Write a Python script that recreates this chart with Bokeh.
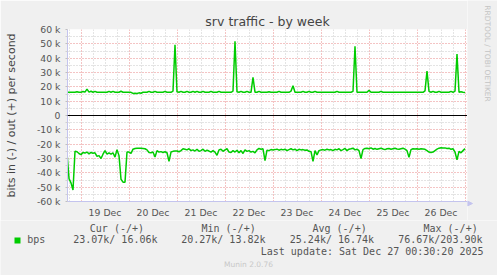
from math import pi
from bokeh.plotting import figure
from bokeh.layouts import column, row
from bokeh.models import (Range1d, FixedTicker, Label, Span, Arrow, NormalHead,
                          BoxAnnotation, ColumnDataSource)
from bokeh.embed import file_html
from bokeh.resources import INLINE

# ---------------- data ----------------
# hourly samples, hour 0 = 19 Dec 00:00, first sample at hour -7
start_hour = -7
out_k = [
    16.2, 16.2, 16.3, 16.2, 16.2, 16.5, 16.2,
    16.2, 16.8, 16.3, 18.4, 16.3, 16.9, 16.2, 16.8, 16.2, 16.2, 16.3, 16.2,
    16.2, 16.2, 16.8, 16.2, 16.8, 16.2, 16.2, 16.2, 16.9, 16.2, 16.2, 16.2,
    16.2, 16.2, 15.4, 15.6, 15.4, 15.8, 15.5, 16.2, 16.2, 16.2, 16.8, 16.2,
    16.2, 16.8, 16.2, 16.2, 16.2, 16.2, 16.8, 16.2, 16.2, 16.2, 17.0, 49.4,
    16.5, 16.2, 16.8, 16.2, 16.2, 16.8, 16.2, 16.2, 16.8, 16.2, 16.8, 16.2,
    16.2, 16.8, 16.2, 16.2, 16.2, 16.8, 16.2, 16.2, 16.2, 16.8, 16.2, 16.2,
    16.2, 16.2, 16.2, 16.2, 17.0, 51.7, 16.5, 16.2, 16.8, 16.2, 16.2, 16.8,
    16.2, 16.2, 26.7, 16.3, 16.2, 16.8, 16.2, 16.2, 16.2, 16.2, 16.5, 16.2,
    16.2, 16.3, 16.2, 16.8, 16.2, 16.2, 16.2, 16.2, 16.2, 17.0, 20.7, 16.2,
    16.2, 16.2, 16.2, 16.8, 16.2, 16.2, 16.8, 16.2, 16.2, 16.8, 16.2, 16.2,
    16.2, 16.2, 16.2, 16.2, 16.2, 16.2, 16.2, 16.2, 16.8, 16.2, 16.2, 16.2,
    16.2, 16.2, 16.2, 16.2, 16.8, 48.3, 16.2, 16.2, 16.2, 16.2, 16.2, 16.2,
    17.5, 16.2, 16.2, 16.2, 16.2, 16.2, 16.8, 16.2, 16.2, 16.2, 16.2, 16.2,
    16.2, 16.2, 16.2, 16.2, 16.2, 16.2, 16.2, 16.2, 16.2, 16.2, 16.2, 16.2,
    16.2, 16.2, 16.2, 16.2, 17.2, 31.0, 16.8, 16.2, 16.8, 16.2, 16.2, 16.8,
    16.2, 16.2, 16.2, 16.2, 16.2, 16.8, 16.2, 17.0, 42.8, 16.2, 16.5, 16.2,
    16.1,
]
in_k = [
    -26.0, -44.0, -47.0, -52.0, -25.0, -25.3, -26.5,
    -27.3, -25.8, -26.2, -25.5, -26.8, -25.8, -26.3, -26.0, -28.5, -28.0, -30.0, -27.0,
    -24.5, -27.0, -26.0, -27.0, -26.0, -29.0, -23.8, -28.0, -44.5, -46.5, -46.5, -25.5,
    -25.5, -26.5, -23.5, -23.0, -22.8, -22.8, -22.8, -23.0, -23.2, -24.0, -25.8, -26.0,
    -25.5, -29.0, -24.5, -25.5, -25.2, -25.8, -25.3, -26.0, -32.0, -25.5, -25.0, -24.8,
    -24.8, -25.3, -24.5, -23.2, -23.5, -24.0, -23.2, -24.5, -24.0, -24.8, -23.5, -25.0,
    -24.5, -23.5, -25.0, -24.2, -24.8, -25.5, -24.5, -25.5, -27.8, -24.0, -23.5, -25.0,
    -24.0, -23.2, -25.5, -25.8, -24.5, -25.5, -24.2, -26.0, -24.5, -26.5, -24.0, -25.0,
    -24.5, -25.5, -25.0, -26.0, -24.0, -23.0, -23.5, -23.2, -31.5, -24.2, -24.5, -23.8,
    -24.0, -23.8, -23.5, -24.2, -23.6, -24.0, -23.5, -24.5, -23.8, -23.2, -24.0, -23.5,
    -24.5, -23.6, -24.0, -23.8, -24.2, -24.0, -25.0, -25.2, -32.0, -24.5, -27.5, -24.5,
    -24.0, -23.8, -24.2, -23.5, -24.0, -23.8, -24.5, -23.6, -24.0, -23.2, -24.5, -23.8,
    -23.0, -24.5, -23.5, -23.2, -22.8, -24.0, -23.5, -24.5, -30.0, -23.8, -23.0, -22.8,
    -23.2, -22.6, -23.5, -23.0, -23.6, -23.2, -22.8, -23.4, -23.8, -23.2, -23.0, -23.5,
    -23.2, -22.9, -23.4, -23.6, -23.2, -22.8, -23.5, -24.5, -29.2, -23.8, -23.2, -23.4,
    -23.2, -23.5, -23.2, -23.4, -23.6, -24.5, -25.5, -25.8, -25.5, -24.5, -23.5, -22.8,
    -22.5, -22.7, -22.6, -23.0, -22.8, -23.6, -23.2, -25.5, -31.0, -25.0, -26.0, -24.5,
    -23.1,
]
day_labels = ["19 Dec", "20 Dec", "21 Dec", "22 Dec", "23 Dec", "24 Dec", "25 Dec", "26 Dec"]
y_ticks = [-60, -50, -40, -30, -20, -10, 0, 10, 20, 30, 40, 50, 60]
y_tick_labels = ["-60 k", "-50 k", "-40 k", "-30 k", "-20 k", "-10 k", "0",
                 "10 k", "20 k", "30 k", "40 k", "50 k", "60 k"]
legend_head = ["Cur (-/+)", "Min (-/+)", "Avg (-/+)", "Max (-/+)"]
legend_vals = ["23.07k/ 16.06k", "20.27k/ 13.82k", "25.24k/ 16.74k", "76.67k/203.90k"]
series_name = "bps"
title_text = "srv traffic - by week"
ylabel_text = "bits in (-) / out (+) per second"
update_text = "Last update: Sat Dec 27 00:30:20 2025"
watermark = "RRDTOOL / TOBI OETIKER"
version_text = "Munin 2.0.76"

# ---------------- derived ----------------
hours = [start_hour + i for i in range(len(out_k))]
midnights = [24 * i for i in range(len(day_labels) + 1)]
noons = [24 * i + 12 for i in range(len(day_labels))]
six_h = [6 * i for i in range(-1, 33) if (6 * i) % 24 != 0]
y_minor = [v + 5 for v in y_ticks[:-1]]

GREEN = "#00cc00"
AXIS = "#c4c4ee"
TXT = "#555555"
BG = "#f0f0f0"
MONO = "DejaVu Sans Mono"
SANS = "DejaVu Sans"


def no_align(fig):
    if "frame_align" in fig.properties():
        fig.frame_align = False


# ---------------- main chart ----------------
p = figure(width=467, height=220, output_backend="svg", toolbar_location=None,
           x_range=Range1d(-6.75, 193.25), y_range=Range1d(-60, 60),
           min_border_left=67, min_border_right=0, min_border_top=29, min_border_bottom=17,
           background_fill_color="white", border_fill_color=BG,
           outline_line_color=None, title=title_text)
no_align(p)

p.title.align = "center"
p.title.offset = -19
p.title.text_font = SANS
p.title.text_font_size = "12.5px"
p.title.text_font_style = "normal"
p.title.text_color = "#444444"
p.title.standoff = 2

# grids
p.xgrid.ticker = FixedTicker(ticks=midnights, minor_ticks=six_h)
p.ygrid.ticker = FixedTicker(ticks=y_ticks, minor_ticks=y_minor)
for g in (p.xgrid, p.ygrid):
    g.grid_line_color = "#e88888"
    g.grid_line_dash = "1 2"
    g.minor_grid_line_color = "#c8c8c8"
    g.minor_grid_line_dash = "1 2"

# axes
p.yaxis.ticker = FixedTicker(ticks=y_ticks, minor_ticks=y_minor)
p.yaxis.major_label_overrides = dict(zip(y_ticks, y_tick_labels))
p.yaxis.axis_line_color = AXIS
p.yaxis.major_tick_out = 2
p.yaxis.major_tick_in = 0
p.yaxis.minor_tick_out = 2
p.yaxis.minor_tick_in = 0
p.yaxis.major_tick_line_color = "#c0c0c0"
p.yaxis.minor_tick_line_color = "#d0d0d0"
p.yaxis.major_label_standoff = 5
p.yaxis.major_label_text_font = SANS
p.yaxis.major_label_text_font_size = "9.3px"
p.yaxis.major_label_text_color = TXT
p.yaxis.axis_label = ylabel_text
p.yaxis.axis_label_text_font = SANS
p.yaxis.axis_label_text_font_size = "11px"
p.yaxis.axis_label_text_font_style = "normal"
p.yaxis.axis_label_text_color = "#444444"
p.yaxis.axis_label_standoff = 16

p.xaxis.ticker = FixedTicker(ticks=noons)
p.xaxis.major_label_overrides = dict(zip(noons, day_labels))
p.xaxis.axis_line_color = AXIS
p.xaxis.major_tick_line_color = None
p.xaxis.minor_tick_line_color = None
p.xaxis.major_tick_out = 0
p.xaxis.major_tick_in = 0
p.xaxis.major_label_standoff = 5
p.xaxis.major_label_text_font = SANS
p.xaxis.major_label_text_font_size = "9.3px"
p.xaxis.major_label_text_color = TXT

# data
src = ColumnDataSource(dict(h=hours, out=out_k, inn=in_k))
p.add_layout(Span(location=0, dimension="width", line_color="black", line_width=1))
p.line("h", "out", source=src, line_color=GREEN, line_width=1.5)
p.line("h", "inn", source=src, line_color=GREEN, line_width=1.5)

# ---------------- right strip (watermark, x-axis arrow) ----------------
s = figure(width=30, height=220, output_backend="svg", toolbar_location=None,
           x_range=Range1d(467, 497), y_range=Range1d(220, 0),
           x_axis_type=None, y_axis_type=None, min_border=0,
           background_fill_color=BG, border_fill_color=BG,
           outline_line_color=None, title=None)
no_align(s)
s.add_layout(Label(text=watermark, x=486.5, y=53, angle=-pi / 2,
                   text_font=SANS, text_font_size="7.5px", text_color="#c4c4c4",
                   text_align="center", text_baseline="middle"))
s.add_layout(Arrow(end=NormalHead(size=5, fill_color=AXIS, line_color=AXIS),
                   x_start=467, y_start=203, x_end=472, y_end=203, line_color=AXIS))

# ---------------- footer (legend / update line) ----------------
f = figure(width=497, height=55, output_backend="svg", toolbar_location=None,
           x_range=Range1d(0, 497), y_range=Range1d(55, 0),
           x_axis_type=None, y_axis_type=None, min_border=0,
           background_fill_color=BG, border_fill_color=BG,
           outline_line_color=None, title=None)
no_align(f)


def lab(text, x, y, size="10px", color=TXT, font=MONO, align="left"):
    f.add_layout(Label(text=text, x=x, y=y, text_font=font, text_font_size=size,
                       text_color=color, text_align=align, text_baseline="middle"))


for t, x in zip(legend_head, [89.3, 201, 312, 423]):
    lab(t, x, 7.7)
lab(series_name, 26.7, 19.3)
for t, x in zip(legend_vals, [72.7, 180.7, 289.3, 397.7]):
    lab(t, x, 19.3)
f.add_layout(BoxAnnotation(left=14, right=20, top=17, bottom=23,
                           fill_color=GREEN, fill_alpha=1.0, line_color=None))
lab(update_text, 483, 30.7, align="right")
lab(version_text, 248, 44, size="7.5px", color="#c8c8c8", font=SANS, align="center")

layout = column(row(p, s, spacing=0), f, spacing=0)
open("out.html", "w").write(file_html(layout, INLINE))
